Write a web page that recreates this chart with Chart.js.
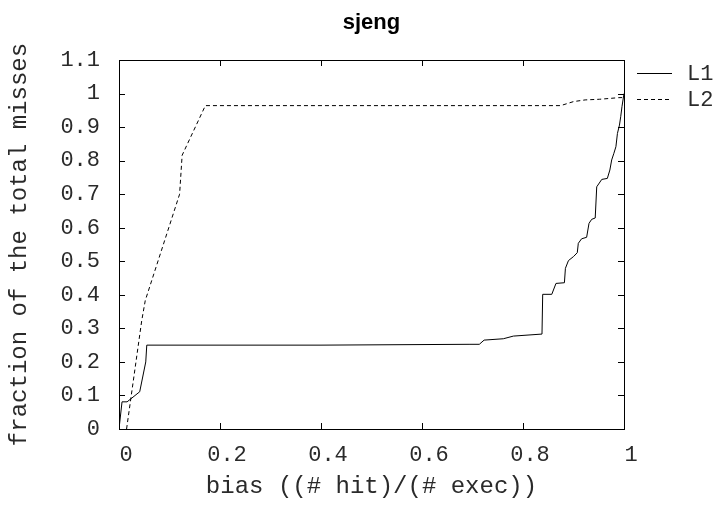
<!DOCTYPE html>
<html>
<head>
<meta charset="utf-8">
<title>sjeng</title>
<script src="https://cdn.jsdelivr.net/npm/chart.js@4.4.1/dist/chart.umd.min.js"></script>
<style>
  html, body { margin: 0; padding: 0; background: #fff; }
  #wrap { width: 720px; height: 508px; }
</style>
</head>
<body>
<div id="wrap"><canvas id="chart" width="720" height="508"></canvas></div>
<script>
// data
const seriesNames = ['L1', 'L2'];

const l1X = [0, 0.006, 0.016, 0.041, 0.053, 0.055, 0.40, 0.695, 0.7135, 0.723, 0.761, 0.781, 0.8376,
  0.839, 0.857, 0.8653, 0.882, 0.884, 0.890, 0.900, 0.9075, 0.9095, 0.916, 0.926, 0.9307, 0.936, 0.943,
  0.946, 0.956, 0.967, 0.972, 0.9756, 0.980, 0.984, 0.987, 0.991, 0.9935, 0.996, 1.0];
const l1Y = [0, 0.081, 0.081, 0.111, 0.20, 0.25, 0.25, 0.2525, 0.2525, 0.265, 0.269, 0.277, 0.283,
  0.4015, 0.4015, 0.434, 0.436, 0.479, 0.502, 0.514, 0.5256, 0.5535, 0.567, 0.5715, 0.613, 0.625, 0.629,
  0.722, 0.744, 0.747, 0.772, 0.802, 0.822, 0.8415, 0.881, 0.906, 0.931, 0.961, 1.0];

const l2X = [0.015, 0.045, 0.052, 0.12, 0.125, 0.171, 0.8746, 0.900, 0.923, 0.952, 0.972, 0.989, 0.997, 1.0];
const l2Y = [0, 0.323, 0.383, 0.70, 0.816, 0.964, 0.964, 0.976, 0.981, 0.983, 0.9855, 0.9877, 0.988, 0.99];

const xTicks = [0, 0.2, 0.4, 0.6, 0.8, 1];
const xTickLabels = ['0', '0.2', '0.4', '0.6', '0.8', '1'];
const yTicks = [0, 0.1, 0.2, 0.3, 0.4, 0.5, 0.6, 0.7, 0.8, 0.9, 1, 1.1];
const yTickLabels = ['0', '0.1', '0.2', '0.3', '0.4', '0.5', '0.6', '0.7', '0.8', '0.9', '1', '1.1'];

const MONO = '"Liberation Mono", "DejaVu Sans Mono", monospace';
const TEXT = '#2a2a2a';   // reference font is a thin courier, so a touch lighter
const toPoints = (xs, ys) => xs.map((x, i) => ({ x: x, y: ys[i] }));

// frame with inward ticks on all four sides, title and key (gnuplot look)
const gnuplotFrame = {
  id: 'gnuplotFrame',
  afterDraw(chart) {
    const { ctx, chartArea: a, scales } = chart;
    const tick = 6;
    ctx.save();
    ctx.strokeStyle = '#000';
    ctx.lineWidth = 1;
    ctx.setLineDash([]);
    ctx.strokeRect(Math.round(a.left) + 0.5, Math.round(a.top) + 0.5,
      Math.round(a.right - a.left), Math.round(a.bottom - a.top));
    ctx.beginPath();
    xTicks.forEach(v => {
      const px = Math.round(scales.x.getPixelForValue(v)) + 0.5;
      ctx.moveTo(px, a.bottom); ctx.lineTo(px, a.bottom - tick);
      ctx.moveTo(px, a.top); ctx.lineTo(px, a.top + tick);
    });
    yTicks.forEach(v => {
      const py = Math.round(scales.y.getPixelForValue(v)) + 0.5;
      ctx.moveTo(a.left, py); ctx.lineTo(a.left + tick, py);
      ctx.moveTo(a.right, py); ctx.lineTo(a.right - tick, py);
    });
    ctx.stroke();

    // title
    ctx.fillStyle = '#000';
    ctx.font = 'bold 22px "Liberation Sans", Arial, sans-serif';
    ctx.textAlign = 'center';
    ctx.textBaseline = 'alphabetic';
    ctx.fillText('sjeng', (a.left + a.right) / 2, 29);

    // key
    ctx.fillStyle = TEXT;
    ctx.font = '22px ' + MONO;
    ctx.textAlign = 'left';
    ctx.textBaseline = 'middle';
    const keyRows = [73, 99];
    chart.data.datasets.forEach((ds, i) => {
      const y = keyRows[i] + 0.5;
      ctx.setLineDash(ds.borderDash || []);
      ctx.beginPath();
      ctx.moveTo(637, y);
      ctx.lineTo(672, y);
      ctx.stroke();
      ctx.fillText(ds.label, 687, keyRows[i] + 1);
    });
    ctx.restore();
  }
};

new Chart(document.getElementById('chart'), {
  type: 'line',
  data: {
    datasets: [
      {
        label: seriesNames[0],
        data: toPoints(l1X, l1Y),
        borderColor: '#000',
        borderWidth: 1,
        pointRadius: 0,
        tension: 0,
        fill: false
      },
      {
        label: seriesNames[1],
        data: toPoints(l2X, l2Y),
        borderColor: '#000',
        borderWidth: 1,
        borderDash: [4, 3],
        pointRadius: 0,
        tension: 0,
        fill: false
      }
    ]
  },
  options: {
    responsive: false,
    animation: false,
    devicePixelRatio: 1,
    layout: { padding: { left: 0, top: 60, right: 96, bottom: 0 } },
    plugins: {
      legend: { display: false },
      title: { display: false },
      tooltip: { enabled: false }
    },
    scales: {
      x: {
        type: 'linear',
        min: 0,
        max: 1,
        grid: { display: false, drawTicks: false },
        border: { display: false },
        afterBuildTicks: s => { s.ticks = xTicks.map(v => ({ value: v })); },
        afterFit: s => { s.height = 79; },
        ticks: {
          autoSkip: false,
          maxRotation: 0,
          padding: 13,
          labelOffset: 7,
          color: TEXT,
          font: { family: MONO, size: 22 },
          callback: (v, i) => xTickLabels[i]
        },
        title: {
          display: true,
          text: 'bias ((# hit)/(# exec))',
          color: TEXT,
          font: { family: MONO, size: 24 },
          padding: { top: 0, bottom: 7 }
        }
      },
      y: {
        type: 'linear',
        min: 0,
        max: 1.1,
        grid: { display: false, drawTicks: false },
        border: { display: false },
        afterBuildTicks: s => { s.ticks = yTicks.map(v => ({ value: v })); },
        afterFit: s => { s.width = 119; },
        ticks: {
          autoSkip: false,
          padding: 19,
          color: TEXT,
          font: { family: MONO, size: 22 },
          callback: (v, i) => yTickLabels[i]
        },
        title: {
          display: true,
          text: 'fraction of the total misses',
          color: TEXT,
          font: { family: MONO, size: 24 },
          padding: { top: 5, bottom: 0 }
        }
      }
    }
  },
  plugins: [gnuplotFrame]
});
</script>
</body>
</html>
